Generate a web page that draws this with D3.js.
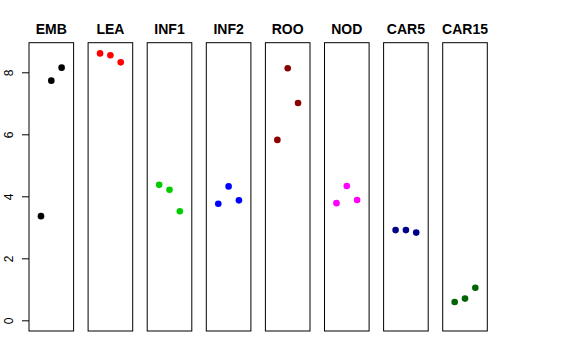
<!DOCTYPE html>
<html><head><meta charset="utf-8">
<script src="https://cdn.jsdelivr.net/npm/d3@7"></script>
<style>body{margin:0;background:#fff}svg{display:block}</style>
</head><body><svg id="c" width="576" height="360"></svg>
<script>
const categories = ["EMB","LEA","INF1","INF2","ROO","NOD","CAR5","CAR15"];
const colors = ["#000000","#ff0000","#00cd00","#0000ff","#8b0000","#ff00ff","#00008b","#006400"];
const values = [
  [3.36, 7.73, 8.15],
  [8.61, 8.55, 8.32],
  [4.37, 4.21, 3.52],
  [3.76, 4.32, 3.87],
  [5.82, 8.13, 7.01],
  [3.78, 4.33, 3.88],
  [2.91, 2.91, 2.83],
  [0.59, 0.70, 1.05]
];
const yTicks = [0, 2, 4, 6, 8];

(function () {
const svg = d3.select("#c");
const plotTop = 42.7, plotBottom = 331, firstLeft = 29, boxW = 44.6, pitch = 59.1;
const ymax = d3.max(values.flat());
const pad = ymax * 0.04;
const y = d3.scaleLinear().domain([0 - pad, ymax + pad]).range([plotBottom, plotTop]);

categories.forEach((cat, i) => {
  const x0 = firstLeft + i * pitch;
  const x = d3.scaleLinear().domain([-0.16, 4.16]).range([x0, x0 + boxW]);
  const g = svg.append("g");
  g.append("rect").attr("x", x0).attr("y", plotTop).attr("width", boxW).attr("height", plotBottom - plotTop)
    .attr("fill", "none").attr("stroke", "#000").attr("stroke-width", 1);
  g.append("text").attr("x", x0 + boxW / 2).attr("y", 34)
    .attr("text-anchor", "middle").attr("font-family", "Liberation Sans, Arial, sans-serif")
    .attr("font-weight", "bold").attr("font-size", 14).text(cat);
  g.selectAll("circle").data(values[i]).join("circle")
    .attr("cx", (d, j) => x(j + 1)).attr("cy", d => y(d)).attr("r", 3.3)
    .attr("fill", colors[i]);
});

const axis = d3.axisLeft(y).tickValues(yTicks).tickSize(7).tickPadding(9).tickFormat(d3.format("d"));
const ag = svg.append("g").attr("transform", `translate(${firstLeft},0)`).call(axis);
ag.select(".domain").remove();
ag.selectAll("line").attr("stroke", "#000");
ag.selectAll("text")
  .attr("font-family", "Liberation Sans, Arial, sans-serif").attr("font-size", 12).attr("fill", "#000")
  .attr("x", -16.5).attr("y", 0).attr("dy", 0)
  .attr("text-anchor", "middle")
  .attr("transform", "rotate(-90, -16.5, 0)");
})();
</script></body></html>
